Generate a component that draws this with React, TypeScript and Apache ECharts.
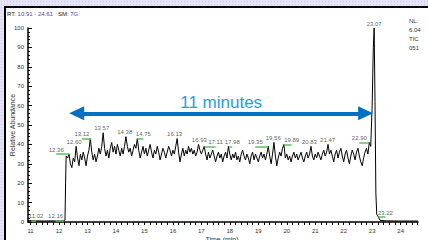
import React, { useEffect, useRef } from "react";
import * as echarts from "echarts";

// ---- data ----
const xMin = 10.91;
const xMax = 24.61;
const xTickLabels = [11, 12, 13, 14, 15, 16, 17, 18, 19, 20, 21, 22, 23, 24];
const yTickLabels = [0, 10, 20, 30, 40, 50, 60, 70, 80, 90, 100];

// baseline before the plateau [time, relative abundance]
const leadIn: [number, number][] = [
  [10.91, 0.6], [11.02, 0.8], [11.2, 0.6], [11.5, 0.5], [11.8, 0.6],
  [12.0, 0.5], [12.16, 0.7], [12.21, 1.0], [12.23, 20],
];

// dense plateau: scans every 0.05 min starting at 12.25
const plateauStart = 12.25;
const scanStep = 0.05;
const plateauValues = [
  // 12.25 - 12.95
  34, 33, 35, 30, 28, 33, 31, 39, 33, 29, 35, 32, 36, 33, 29,
  // 13.00 - 13.95
  34, 37, 43, 36, 32, 35, 31, 34, 38, 35, 39, 46, 38, 34, 37, 33, 38, 41, 36, 39,
  // 14.00 - 14.95
  35, 40, 37, 34, 38, 35, 39, 44, 39, 36, 38, 34, 37, 40, 38, 43, 37, 33, 36, 39,
  // 15.00 - 15.95
  35, 38, 34, 37, 40, 36, 33, 37, 35, 39, 36, 32, 35, 38, 36, 33, 36, 39, 37, 34,
  // 16.00 - 16.95
  37, 35, 39, 43, 36, 31, 35, 38, 34, 37, 35, 39, 36, 38, 35, 37, 34, 36, 40, 37,
  // 17.00 - 17.95
  35, 37, 39, 35, 32, 36, 33, 35, 37, 34, 31, 34, 36, 33, 35, 31, 34, 36, 33, 39,
  // 18.00 - 18.95
  35, 32, 35, 33, 36, 32, 34, 31, 35, 37, 34, 32, 35, 33, 30, 34, 36, 32, 35, 33,
  // 19.00 - 19.95
  31, 34, 36, 33, 35, 32, 35, 39, 34, 30, 35, 41, 34, 29, 33, 36, 34, 38, 40, 33,
  // 20.00 - 20.95
  35, 32, 34, 31, 34, 36, 33, 35, 32, 34, 36, 33, 31, 34, 36, 33, 35, 39, 34, 32,
  // 21.00 - 21.95
  35, 33, 36, 34, 32, 35, 37, 34, 36, 40, 35, 37, 34, 31, 35, 37, 33, 36, 38, 34,
  // 22.00 - 22.95
  31, 35, 37, 33, 30, 34, 37, 35, 32, 36, 38, 34, 31, 29, 33, 36, 38, 35, 41, 39,
];

// big peak and baseline afterwards
const tailOut: [number, number][] = [
  [23.0, 60], [23.04, 90], [23.07, 100], [23.1, 62], [23.13, 15], [23.16, 4],
  [23.22, 2.5], [23.28, 0.8], [23.5, 0.6], [24.0, 0.5], [24.61, 0.5],
];

// labelled peaks
const peakTimes = [11.02, 12.16, 12.36, 12.6, 13.12, 13.57, 14.38, 14.75, 16.13, 16.93,
  17.11, 17.98, 19.35, 19.56, 19.89, 20.83, 21.47, 22.9, 23.07, 23.22];
const peakHeights = [0.6, 0.6, 35, 39, 43, 46, 44, 43, 43, 40,
  39, 39, 39, 41, 40, 39, 40, 41, 100, 2.5];

// annotation arrow
const arrowFrom = 12.62;
const arrowTo = 22.77;
const arrowLevel = 56;
const arrowText = "11 minutes";

const rangeText = "10.91 - 24.61";
const smoothText = "7G";
const rightNotes = ["NL:", "6.04", "TIC", "051"];

// ---- layout / style (not data) ----
const FONT = "Arial, 'Liberation Sans', Helvetica, sans-serif";
const GRID = { left: 28, right: 10, top: 28, bottom: 18 };
// horizontal displacement (px) of each peak label, as in the reference
const labelShiftPx = [5, -8, -13, -2, -9, -2, -2, 6, -2, 0, 11, 3, -13, -1, 8, -1, -1, -10, 0, 7];

export default function App() {
  const ref = useRef<HTMLDivElement>(null);

  useEffect(() => {
    if (!ref.current) return;
    const chart = echarts.init(ref.current, null, { renderer: "svg" });

    const trace: [number, number][] = [
      ...leadIn,
      ...plateauValues.map((v, i) => [Number((plateauStart + i * scanStep).toFixed(2)), v] as [number, number]),
      ...tailOut,
    ];

    const xTicks: number[] = [];
    for (let k = 0; ; k++) {
      const v = Number((11 + k * 0.2).toFixed(2));
      if (v > xMax) break;
      xTicks.push(v);
    }

    const pxPerMin = (428 - GRID.left - GRID.right) / (xMax - xMin);

    const peaks = peakTimes.map((t, i) => ({
      value: [t, peakHeights[i]],
      label: { offset: [labelShiftPx[i], 0] },
    }));
    // green leader lines joining displaced labels to their apex
    const greenSegs = peakTimes
      .map((t, i) => ({ t, h: peakHeights[i], dx: labelShiftPx[i] }))
      .filter((d) => Math.abs(d.dx) >= 3)
      .map((d) => [{ coord: [d.t, d.h] }, { coord: [d.t + d.dx / pxPerMin, d.h] }]);

    const axisColor = "#000";
    const labelColor = "#333";

    const option: any = {
      animation: false,
      grid: { ...GRID, containLabel: false, outerBoundsMode: "none" },
      xAxis: {
        type: "value",
        min: xMin,
        max: xMax,
        axisLine: { show: true, onZero: false, lineStyle: { color: axisColor, width: 1.5 } },
        axisTick: { show: true, customValues: xTicks, length: 3, lineStyle: { color: axisColor, width: 1 } },
        axisLabel: {
          show: true,
          customValues: xTickLabels,
          fontSize: 6,
          color: labelColor,
          margin: 6,
          fontFamily: FONT,
          formatter: (v: number) => String(Math.round(v)),
        },
        splitLine: { show: false },
      },
      yAxis: {
        type: "value",
        min: 0,
        max: 100,
        interval: 10,
        axisLine: { show: true, onZero: false, lineStyle: { color: axisColor, width: 1.5 } },
        axisTick: { show: true, inside: true, length: 4, lineStyle: { color: axisColor, width: 1 } },
        minorTick: { show: true, splitNumber: 5, length: 2, lineStyle: { color: axisColor, width: 1 } },
        axisLabel: {
          show: true,
          customValues: yTickLabels,
          fontSize: 6,
          color: labelColor,
          margin: 4,
          fontFamily: FONT,
        },
        splitLine: { show: false },
      },
      series: [
        {
          type: "line",
          data: trace,
          showSymbol: false,
          symbol: "none",
          lineStyle: { color: "#000", width: 1 },
          z: 3,
          silent: true,
          markLine: {
            silent: true,
            symbol: ["triangle", "triangle"],
            symbolSize: [14, 15],
            lineStyle: { color: "#0070c0", width: 4, type: "solid" },
            label: {
              show: true,
              formatter: arrowText,
              position: "insideMiddleTop",
              distance: 2,
              color: "#1d9fe3",
              fontSize: 17,
              fontFamily: FONT,
            },
            emphasis: { disabled: true },
            data: [[{ coord: [arrowFrom, arrowLevel] }, { coord: [arrowTo, arrowLevel] }]],
          },
        },
        {
          type: "scatter",
          data: peaks,
          symbol: "circle",
          symbolSize: 1,
          itemStyle: { color: "transparent" },
          silent: true,
          z: 4,
          label: {
            show: true,
            position: "top",
            distance: 1,
            fontSize: 6,
            color: labelColor,
            fontFamily: FONT,
            formatter: (p: any) => p.value[0].toFixed(2),
          },
          markLine: {
            silent: true,
            symbol: ["none", "none"],
            lineStyle: { color: "#5cc05c", width: 1.5, type: "solid" },
            label: { show: false },
            emphasis: { disabled: true },
            data: greenSegs,
          },
        },
      ],
      graphic: [
        {
          type: "text",
          left: 7,
          top: 11,
          style: {
            text: `{a|RT: }{b|${rangeText}}{a|   SM: }{b|${smoothText}}`,
            rich: {
              a: { fontSize: 6, fill: "#222", fontFamily: FONT },
              b: { fontSize: 6, fill: "#4848b0", fontFamily: FONT },
            },
          },
        },
        ...rightNotes.map((t, i) => ({
          type: "text",
          left: 409,
          top: 18 + i * 9,
          style: { text: t, fontSize: 6, fill: "#333", fontFamily: FONT },
        })),
        {
          type: "text",
          x: 12,
          y: 125,
          rotation: Math.PI / 2,
          style: {
            text: "Relative Abundance",
            fontSize: 7,
            fill: "#333",
            fontFamily: FONT,
            align: "center",
            verticalAlign: "middle",
          },
        },
        {
          type: "text",
          x: 222,
          y: 239,
          style: {
            text: "Time (min)",
            fontSize: 7,
            fill: "#333",
            fontFamily: FONT,
            align: "center",
            verticalAlign: "middle",
          },
        },
      ],
    };

    chart.setOption(option);
    return () => chart.dispose();
  }, []);

  return (
    <div
      style={{
        position: "fixed",
        left: 0,
        top: 0,
        width: 428,
        height: 240,
        overflow: "hidden",
        backgroundColor: "#e4e4f6",
        backgroundImage: "radial-gradient(circle, #c8c8ec 0.7px, transparent 0.9px)",
        backgroundSize: "3px 3px",
      }}
    >
      <div
        style={{
          position: "absolute",
          left: 4,
          top: 6,
          right: 0,
          bottom: 0,
          background: "#fff",
          borderLeft: "2px solid #000",
          borderTop: "2px solid #000",
        }}
      />
      <div ref={ref} style={{ position: "absolute", left: 0, top: 0, width: 428, height: 240 }} />
    </div>
  );
}
